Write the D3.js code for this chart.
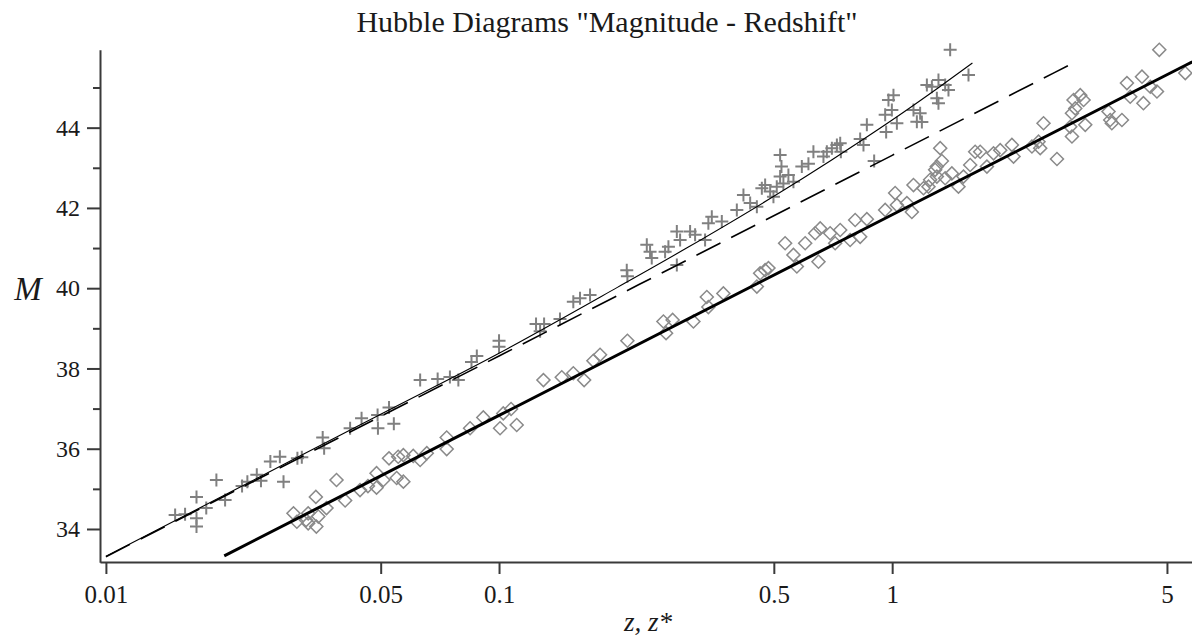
<!DOCTYPE html>
<head>
<meta charset="utf-8">
<style>
body { margin:0; background:#fff; }
.axis path, .axis line { stroke:#3a3a3a; stroke-width:2; }
</style>
</head>
<body>
<div id="chart1"></div>
<script src="https://cdnjs.cloudflare.com/ajax/libs/d3/7.8.5/d3.min.js"></script>
<script>

// ---- data ----
// "+" : z , M
var plusPoints = [
 [0.0150,34.35],[0.0159,34.37],[0.0170,34.80],[0.0170,34.27],[0.0170,34.06],[0.0180,34.52],[0.0191,35.22],[0.0201,34.72],[0.0222,35.07],[0.0229,35.18],
 [0.0242,35.35],[0.0248,35.20],[0.0262,35.68],[0.0277,35.80],[0.0283,35.18],[0.0307,35.76],[0.0315,35.79],[0.0356,36.28],[0.0359,36.01],[0.0418,36.51],
 [0.0447,36.76],[0.0491,36.84],[0.0492,36.51],[0.0525,37.03],[0.0540,36.62],[0.0630,37.71],[0.0698,37.74],[0.0750,37.79],[0.0788,37.71],[0.0851,38.16],
 [0.0878,38.31],[0.1000,38.69],[0.1000,38.54],[0.1242,39.11],[0.1272,38.93],[0.1302,39.11],[0.1429,39.23],[0.1545,39.66],[0.1607,39.75],[0.1704,39.83],
 [0.2113,40.45],[0.2121,40.30],[0.2376,41.08],[0.2422,40.91],[0.2446,40.75],[0.2645,40.91],[0.2697,41.03],[0.2833,41.41],[0.2833,40.58],[0.2888,41.20],
 [0.3062,41.41],[0.3153,41.33],[0.3343,41.20],[0.3408,41.62],[0.3477,41.78],[0.3687,41.66],[0.4026,41.95],[0.4185,42.32],[0.4353,42.12],[0.4527,42.03],
 [0.4661,42.49],[0.4752,42.57],[0.4894,42.41],[0.4989,42.28],[0.5188,42.78],[0.5289,42.61],[0.5446,42.82],[0.5087,42.53],[0.5188,43.32],[0.5229,43.03],
 [0.5609,42.65],[0.5891,43.03],[0.6124,43.10],[0.6305,43.40],[0.6687,43.28],[0.6821,43.40],[0.7025,43.49],[0.7234,43.57],[0.7376,43.61],[0.7405,43.40],
 [0.8291,43.72],[0.8453,43.57],[0.8622,44.07],[0.8999,43.17],[0.9598,44.32],[0.9654,43.89],[0.9786,44.69],[0.9982,44.44],[1.0076,44.81],[1.0280,44.11],
 [1.1330,44.44],[1.1556,44.15],[1.1900,44.14],[1.1780,44.36],[1.2254,45.06],[1.2618,45.02],[1.2992,44.73],[1.3115,45.19],[1.3115,44.61],[1.3641,45.06],
 [1.3907,44.94],[1.4045,45.94],[1.5637,45.31]
];

// diamonds : z* , M
var diamondPoints = [
 [0.0300,34.39],[0.0306,34.18],[0.0323,34.22],[0.0327,34.39],[0.0327,34.14],[0.0342,34.80],[0.0343,34.06],[0.0347,34.31],[0.0364,34.52],[0.0386,35.22],
 [0.0406,34.71],[0.0443,34.97],[0.0464,35.07],[0.0488,35.03],[0.0488,35.39],[0.0508,35.22],[0.0525,35.76],[0.0549,35.27],[0.0554,35.80],[0.0571,35.84],
 [0.0571,35.18],[0.0605,35.82],[0.0630,35.72],[0.0655,35.89],[0.0736,36.28],[0.0736,35.99],[0.0844,36.51],[0.0912,36.78],[0.1006,36.51],[0.1025,36.88],
 [0.1073,36.99],[0.1109,36.59],[0.1297,37.71],[0.1444,37.78],[0.1545,37.88],[0.1646,37.71],[0.1738,38.19],[0.1807,38.34],[0.2121,38.69],[0.2619,39.17],
 [0.2660,38.88],[0.2764,39.21],[0.3122,39.17],[0.3377,39.78],[0.3408,39.53],[0.3721,39.87],[0.4527,40.04],[0.4615,40.37],[0.4752,40.45],[0.4845,40.50],
 [0.5342,41.12],[0.5609,40.83],[0.5722,40.54],[0.6008,41.12],[0.6371,41.37],[0.6495,40.66],[0.6560,41.49],[0.6954,41.37],[0.7161,41.12],[0.7376,41.45],
 [0.7818,41.20],[0.8052,41.70],[0.8291,41.28],[0.8622,41.72],[0.9598,41.95],[1.0176,42.37],[1.0280,42.07],[1.0899,42.12],[1.1222,41.90],[1.1330,42.57],
 [1.2013,42.49],[1.2370,42.53],[1.2492,42.70],[1.2863,42.95],[1.2992,43.03],[1.2992,42.78],[1.3249,43.49],[1.3379,43.17],[1.3641,42.74],[1.4185,42.86],
 [1.4744,42.53],[1.5183,42.78],[1.5792,43.07],[1.6260,43.40],[1.6745,43.40],[1.7418,43.03],[1.8105,43.36],[1.8830,43.44],[2.0164,43.57],[2.0355,43.28],
 [2.2672,43.53],[2.3567,43.65],[2.3801,43.49],[2.4266,44.11],[2.6255,43.22],[2.8379,44.02],[2.8665,43.78],[2.8665,44.36],[2.9222,44.48],[2.8933,44.69],
 [3.0092,44.81],[3.0680,44.69],[3.0985,44.07],[3.5512,44.40],[3.5865,44.19],[3.6200,44.11],[3.8409,44.19],[3.9550,45.11],[4.0323,44.77],[4.3195,45.27],
 [4.3560,44.61],[4.5349,45.02],[4.7160,44.90],[4.7806,45.94],[5.5663,45.36]
];

// model curves
var thinCurve  = [[0.01,33.32],[0.02,34.84],[0.05,36.86],[0.1,38.38],[0.2,40.02],[0.3,41.00],[0.5,42.29],[0.7,43.19],[1.0,44.19],[1.3,44.97],[1.6,45.61]];
var dashCurve  = [[0.01,33.31],[0.1,38.31],[1.0,43.31],[2.9,45.62]];
var thickCurve = [[0.02,33.33],[0.1,36.83],[1.0,41.83],[5.8,45.64]];

var yMajor = [34, 36, 38, 40, 42, 44];
var yMinor = [35, 37, 39, 41, 43, 45];
var xTicks = [0.01, 0.05, 0.1, 0.5, 1, 5];
var xTickLabels = ["0.01", "0.05", "0.1", "0.5", "1", "5"];

var serif = "'Liberation Serif', 'Times New Roman', serif";

// ---- drawing ----
var W = 1192, H = 639;
var svg = d3.select('#chart1').append('svg')
    .attr('width', W).attr('height', H);

var x = d3.scaleLog().domain([0.00966, 5.79]).range([100, 1192]);
var y = d3.scaleLinear().domain([33.17, 45.94]).range([562.3, 49.8]);

function styleTicks(size) {
  return function(g) {
    g.attr("font-family", serif);
    g.selectAll("text").attr("font-size", size).style("font-family", serif).attr("fill", "#1a1a1a");
  };
}

// axes
svg.append("g")
    .attr("class", "axis")
    .attr("transform", "translate(0,562)")
    .call(d3.axisBottom(x).tickValues(xTicks).tickSize(12).tickSizeOuter(0).tickPadding(11)
        .tickFormat(function(d, i) { return xTickLabels[i]; }))
    .call(styleTicks(25));

svg.append("g")
    .attr("class", "axis")
    .attr("transform", "translate(100,0)")
    .call(d3.axisLeft(y).tickValues(yMajor).tickSize(13).tickSizeOuter(0).tickPadding(7))
    .call(styleTicks(24));

svg.append("g")
    .attr("class", "axis")
    .attr("transform", "translate(100,0)")
    .call(d3.axisLeft(y).tickValues(yMinor).tickSize(7).tickSizeOuter(0).tickFormat(""))
    .call(function(g) { g.select(".domain").remove(); });

// markers
var plusPath = "M-6.5,0H6.5M0,-6.5V6.5";
svg.append("g").selectAll(".plus")
  .data(plusPoints)
  .enter().append("path")
    .attr("class", "plus")
    .attr("d", plusPath)
    .attr("transform", function(d) { return "translate(" + x(d[0]) + "," + y(d[1]) + ")"; })
    .attr("fill", "none")
    .attr("stroke", "#808080")
    .attr("stroke-width", 2);

var diamond = d3.symbol().type(d3.symbolSquare).size(85);
svg.append("g").selectAll(".diam")
  .data(diamondPoints)
  .enter().append("path")
    .attr("class", "diam")
    .attr("d", diamond)
    .attr("transform", function(d) { return "translate(" + x(d[0]) + "," + y(d[1]) + ") rotate(45)"; })
    .attr("fill", "none")
    .attr("stroke", "#8a8a8a")
    .attr("stroke-width", 1.5);

// curves
var line = d3.line()
    .x(function(d) { return x(d[0]); })
    .y(function(d) { return y(d[1]); })
    .curve(d3.curveMonotoneX);

svg.append("path").datum(dashCurve)
    .attr("d", line).attr("fill", "none")
    .attr("stroke", "#000").attr("stroke-width", 1.6)
    .attr("stroke-dasharray", "27,12");

svg.append("path").datum(thinCurve)
    .attr("d", line).attr("fill", "none")
    .attr("stroke", "#000").attr("stroke-width", 1.1);

svg.append("path").datum(thickCurve)
    .attr("d", line).attr("fill", "none")
    .attr("stroke", "#000").attr("stroke-width", 3);

// titles
svg.append("text")
    .attr("x", 607).attr("y", 32)
    .attr("text-anchor", "middle")
    .attr("font-family", serif)
    .attr("font-size", 30)
    .attr("fill", "#1a1a1a")
    .text('Hubble Diagrams "Magnitude - Redshift"');

svg.append("text")
    .attr("x", 28).attr("y", 300)
    .attr("text-anchor", "middle")
    .attr("font-family", serif)
    .attr("font-size", 33)
    .attr("font-style", "italic")
    .attr("fill", "#1a1a1a")
    .text("M");

svg.append("text")
    .attr("x", 648).attr("y", 631)
    .attr("text-anchor", "middle")
    .attr("font-family", serif)
    .attr("font-size", 27)
    .attr("font-style", "italic")
    .attr("fill", "#1a1a1a")
    .text("z,  z*");

</script>
</body>
